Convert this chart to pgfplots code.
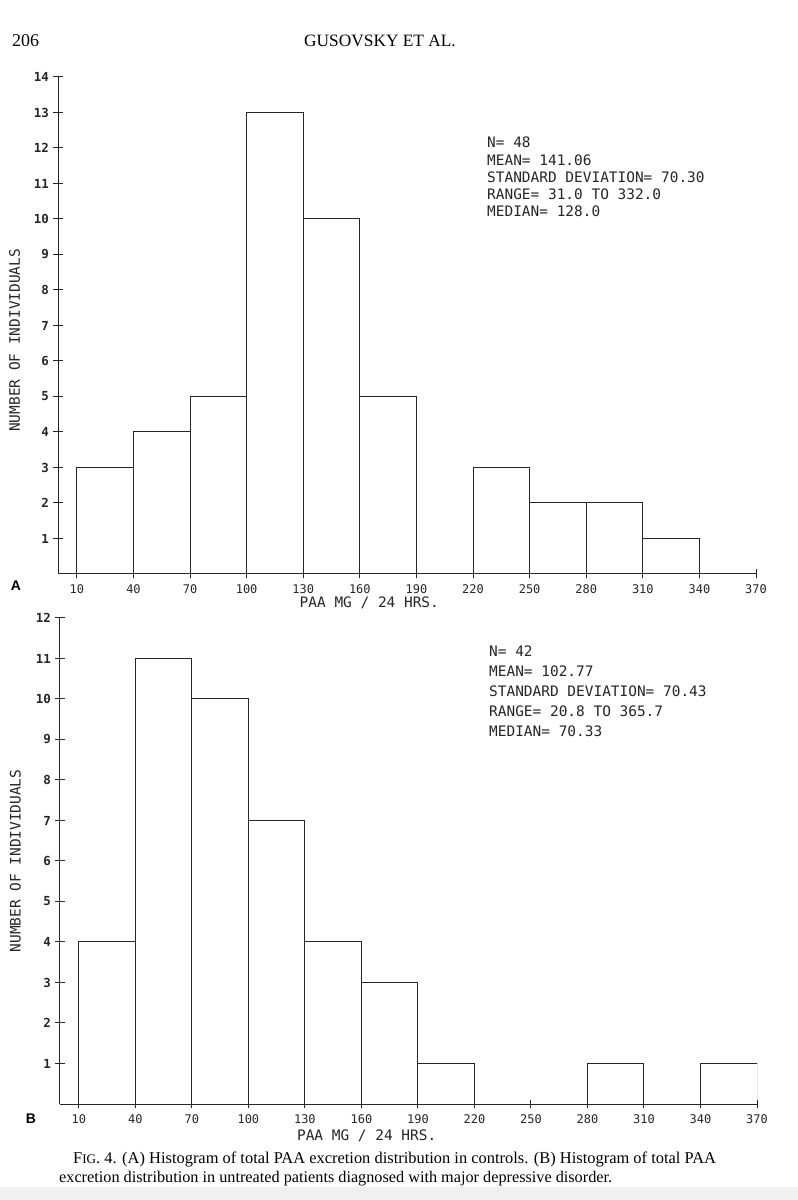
\documentclass[border=0pt]{standalone}
\usepackage{pgfplots}
\pgfplotsset{compat=1.18}
\usepackage{fontspec}
\setmainfont{Liberation Serif}
\newfontfamily\plotfont{DejaVu Sans Mono}
\newfontfamily\boldsans{Liberation Sans}
\pgfplotsset{histo/.style={
  scale only axis, anchor=south west,
  xmin=0, xmax=370, ymin=0,
  axis x line*=bottom, axis y line*=left,
  axis line style={-, line width=1bp, black!85},
  xtick={10,40,...,370},
  tick align=center, major tick length=9bp,
  tick style={black!85, line width=1bp},
  /pgf/number format/assume math mode=true,
  xticklabel style={font=\plotfont\fontsize{12}{12}\selectfont, text=black!85, yshift=-3bp},
  yticklabel style={font=\plotfont\bfseries\fontsize{12.5}{12.5}\selectfont, text=black!85, xshift=-1bp},
  ylabel={NUMBER OF INDIVIDUALS},
  ylabel style={font=\plotfont\fontsize{14.5}{14.5}\selectfont, anchor=center, text=black!85},
  xlabel={PAA MG / 24 HRS.},
  xlabel style={font=\plotfont\fontsize{14.5}{14.5}\selectfont, anchor=center, text=black!85},
  every axis plot/.append style={line width=1bp, black!85}
}}
\begin{document}
\begin{tikzpicture}
\path[use as bounding box, fill=white] (0,0) rectangle (798bp,1200bp);
\fill[black!6] (0,0) rectangle (798bp,13bp);
% header
\node[anchor=base west, font=\fontsize{18}{18}\selectfont, inner sep=0] at (12bp,1153bp) {206};
\node[anchor=base, font=\fontsize{17.4}{17.4}\selectfont, inner sep=0] at (380bp,1153bp) {GUSOVSKY ET AL.};

% ---------- A ----------
\begin{axis}[histo, at={(58bp,626bp)}, width=698bp, height=497bp,
  ymax=14, ytick={1,...,14},
  ylabel style={at={(axis description cs:-0.062,0.47)}},
  xlabel style={at={(axis description cs:0.446,0)}, yshift=-29bp}]
\addplot[ybar interval, fill=none] coordinates {
 (10,3) (40,4) (70,5) (100,13) (130,10) (160,5) (190,0) (220,3) (250,2) (280,2) (310,1) (340,0)};
\end{axis}
\node[anchor=base, font=\boldsans\bfseries\fontsize{14}{14}\selectfont, inner sep=0] at (16bp,609bp) {A};
\node[anchor=north west, align=left, inner sep=0, font=\plotfont\fontsize{14.5}{17.3}\selectfont, text=black!85]
  at (487bp,1063bp) {N= 48\\MEAN= 141.06\\STANDARD DEVIATION= 70.30\\RANGE= 31.0 TO 332.0\\MEDIAN= 128.0};

% ---------- B ----------
\begin{axis}[histo, at={(60bp,96bp)}, width=697bp, height=486bp,
  ymax=12, ytick={1,...,12},
  ylabel style={at={(axis description cs:-0.064,0.5)}},
  xlabel style={at={(axis description cs:0.44,0)}, yshift=-32bp}]
\addplot[ybar interval, fill=none] coordinates {
 (10,4) (40,11) (70,10) (100,7) (130,4) (160,3) (190,1) (220,0) (250,0) (280,1) (310,0) (340,1) (370,0)};
\end{axis}
\node[anchor=base, font=\boldsans\bfseries\fontsize{14}{14}\selectfont, inner sep=0] at (31bp,76bp) {B};
\node[anchor=north west, align=left, inner sep=0, font=\plotfont\fontsize{14.5}{20}\selectfont, text=black!85]
  at (489bp,554bp) {N= 42\\MEAN= 102.77\\STANDARD DEVIATION= 70.43\\RANGE= 20.8 TO 365.7\\MEDIAN= 70.33};

% caption
\node[anchor=base west, inner sep=0, font=\fontsize{16.5}{16.5}\selectfont] at (73bp,37bp)
  {F{\fontsize{13.2}{13.2}\selectfont IG}. 4. (A) Histogram of total PAA excretion distribution in controls. (B) Histogram of total PAA};
\node[anchor=base west, inner sep=0, font=\fontsize{16.3}{16.3}\selectfont] at (59bp,18bp)
  {excretion distribution in untreated patients diagnosed with major depressive disorder.};
\end{tikzpicture}
\end{document}
